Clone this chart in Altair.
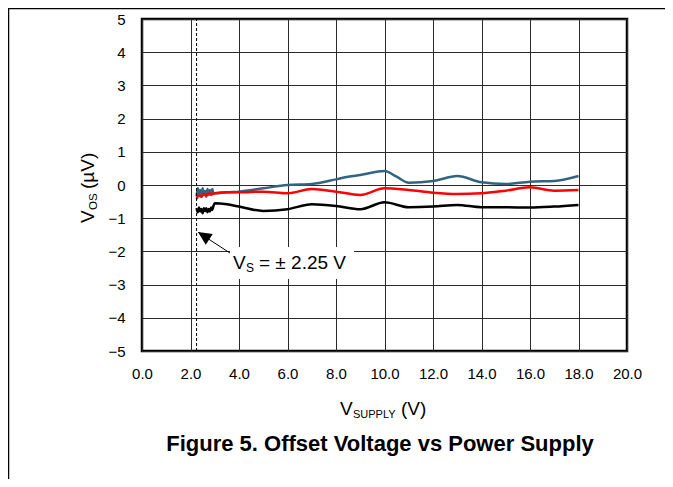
import altair as alt
import pandas as pd

FONT = "Liberation Sans"

# ---- data ----
blue_x = [2.25, 2.3, 2.35, 2.4, 2.45, 2.5, 2.55, 2.6, 2.65, 2.7, 2.75, 2.8, 2.85, 2.9, 2.95, 3.0,
          3.5, 4.0, 5.0, 6.0, 7.0, 8.0, 8.5, 9.0, 10.0, 10.5, 11.0, 12.0, 13.0, 14.0, 15.0, 16.0, 17.0, 18.0]
blue_y = [-0.35, -0.1, -0.3, -0.15, -0.36, -0.1, -0.3, -0.18, -0.35, -0.12, -0.3, -0.15, -0.3, -0.12, -0.25, -0.25,
          -0.22, -0.2, -0.1, 0.0, 0.03, 0.17, 0.25, 0.3, 0.42, 0.25, 0.07, 0.12, 0.27, 0.08, 0.03, 0.1, 0.12, 0.27]

red_x = [2.25, 2.35, 2.45, 2.55, 2.65, 2.75, 2.85, 3.0, 3.5, 4.0, 5.0, 6.0, 7.0, 8.0, 9.0, 10.0,
         11.0, 12.0, 13.0, 14.0, 15.0, 16.0, 17.0, 18.0]
red_y = [-0.42, -0.32, -0.35, -0.27, -0.32, -0.25, -0.28, -0.25, -0.22, -0.22, -0.2, -0.25, -0.12, -0.2, -0.3, -0.1,
         -0.15, -0.23, -0.27, -0.25, -0.17, -0.07, -0.17, -0.15]

black_x = [2.25, 2.3, 2.35, 2.4, 2.45, 2.5, 2.55, 2.6, 2.65, 2.7, 2.75, 2.8, 2.85, 2.9, 2.95, 3.0,
           3.5, 4.0, 5.0, 6.0, 7.0, 8.0, 9.0, 10.0, 11.0, 12.0, 13.0, 14.0, 15.0, 16.0, 17.0, 18.0]
black_y = [-0.7, -0.82, -0.68, -0.8, -0.72, -0.85, -0.7, -0.78, -0.7, -0.82, -0.72, -0.8, -0.68, -0.75, -0.62, -0.55,
           -0.58, -0.65, -0.78, -0.73, -0.58, -0.63, -0.73, -0.52, -0.67, -0.65, -0.6, -0.67, -0.67, -0.68, -0.65, -0.6]

series_names = ["blue", "red", "black"]
series_colors = ["#31657f", "#ff0000", "#000000"]

x_ticks = [0, 2, 4, 6, 8, 10, 12, 14, 16, 18, 20]
y_ticks = [-5, -4, -3, -2, -1, 0, 1, 2, 3, 4, 5]

vs_line_x = [2.25]
arrow_tail = [3.63, -2.05]
arrow_tip = [2.31, -1.42]
arrow_head = [2.54, -1.53]

# ---- tables ----
rows = []
for name, xs_, ys_ in [("blue", blue_x, blue_y), ("red", red_x, red_y), ("black", black_x, black_y)]:
    for a, b in zip(xs_, ys_):
        rows.append({"x": a, "y": b, "series": name})
df = pd.DataFrame(rows)

xs = alt.Scale(domain=[0, 20], nice=False, zero=False)
ys = alt.Scale(domain=[-5, 5], nice=False, zero=False)

x_axis = alt.Axis(values=x_ticks, format=".1f", title=None, grid=True, ticks=False, domain=False,
                  labelFontSize=15, labelFont=FONT, labelColor="black", labelPadding=15,
                  gridColor="#2a2a2a", gridWidth=1, labelFlush=False, labelOverlap=False)
y_axis = alt.Axis(values=y_ticks, format="d", title=None, grid=True, ticks=False, domain=False,
                  labelFontSize=15, labelFont=FONT, labelColor="black", labelPadding=17,
                  gridColor="#2a2a2a", gridWidth=1, labelFlush=False, labelOverlap=False)

def X(field):
    return alt.X(field, scale=xs, axis=x_axis)

def Y(field):
    return alt.Y(field, scale=ys, axis=y_axis)

lines = alt.Chart(df).mark_line(strokeWidth=2.5, interpolate="monotone").encode(
    x=X("x:Q"),
    y=Y("y:Q"),
    color=alt.Color("series:N", scale=alt.Scale(domain=series_names, range=series_colors), legend=None),
    detail="series:N",
)

vs_df = pd.DataFrame({"x": vs_line_x, "y": [-5], "y2": [5]})
vs_rule = alt.Chart(vs_df).mark_rule(color="black", strokeWidth=1, strokeDash=[3, 2]).encode(
    x=X("x:Q"), y=Y("y:Q"), y2="y2:Q"
)

white_box = alt.Chart(pd.DataFrame({"a": [0]})).mark_rect(color="white").encode(
    x=alt.value(88), x2=alt.value(212), y=alt.value(228), y2=alt.value(260)
)

arrow_df = pd.DataFrame({"x": [arrow_tail[0]], "y": [arrow_tail[1]], "x2": [arrow_tip[0]], "y2": [arrow_tip[1]]})
arrow_line = alt.Chart(arrow_df).mark_rule(color="black", strokeWidth=1).encode(
    x=X("x:Q"), y=Y("y:Q"), x2="x2:Q", y2="y2:Q"
)
head_df = pd.DataFrame({"x": [arrow_head[0]], "y": [arrow_head[1]]})
arrow_head_mark = alt.Chart(head_df).mark_point(
    shape="M0,-1L0.95,1L-0.95,1Z", filled=True, color="black", opacity=1, size=182, angle=303
).encode(x=X("x:Q"), y=Y("y:Q"))

one = pd.DataFrame({"a": [0]})

def txt(s, x, y, size=18, angle=0, weight="normal", align="left"):
    return alt.Chart(one).mark_text(
        text=s, font=FONT, fontSize=size, color="black", align=align, baseline="alphabetic",
        angle=angle, fontWeight=weight
    ).encode(x=alt.value(x), y=alt.value(y))

annot = [
    txt("V", 91, 250, 19),
    txt("S", 104, 253, 12),
    txt("= ± 2.25 V", 117, 250, 19),
    # x-axis title
    txt("V", 198, 396, 19),
    txt("SUPPLY", 211, 399, 11),
    txt("(V)", 259, 396, 19),
    # y-axis title (rotated)
    txt("V", -48, 204, 19, angle=270),
    txt("OS", -45, 191, 11.5, angle=270),
    txt("(µV)", -48, 170, 19, angle=270),
    # caption
    txt("Figure 5. Offset Voltage vs Power Supply", 238, 432, 22, weight="bold", align="center"),
]

frame_top = alt.Chart(one).mark_rule(color="black", strokeWidth=1.5).encode(
    x=alt.value(-134), x2=alt.value(531), y=alt.value(-10.5)
)
frame_left = alt.Chart(one).mark_rule(color="black", strokeWidth=1.5).encode(
    x=alt.value(-133.5), y=alt.value(-11), y2=alt.value(468)
)

chart = alt.layer(
    lines, white_box, vs_rule, arrow_line, arrow_head_mark, *annot, frame_top, frame_left
).properties(
    width=485, height=332,
    autosize=alt.AutoSizeParams(type="none"),
    padding={"left": 134, "top": 11, "right": 38, "bottom": 128},
    background="white",
).configure_view(
    stroke="black", strokeWidth=2.5
)

chart.save("out.html", embed_options={"renderer": "svg", "actions": False})
